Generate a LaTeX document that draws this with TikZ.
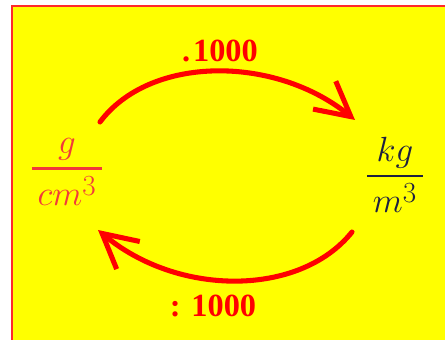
\documentclass[tikz,border=0pt]{standalone}
\usepackage{amsmath}
\usepackage{fontspec}
\setmainfont{Liberation Serif}
\usetikzlibrary{arrows.meta}
\definecolor{boardyellow}{HTML}{FFFF00}
\definecolor{boardred}{HTML}{FF2A2A}
\definecolor{unitred}{HTML}{F23A3A}
\definecolor{unitnavy}{HTML}{1E2040}
\newcommand{\unitfrac}[2]{\genfrac{}{}{1.6pt}{0}{#1}{\,#2\,}}
\tikzset{
  unit/.style={inner sep=0pt,font=\fontsize{31}{36}\selectfont},
  factor/.style={inner sep=0pt,text=red,font=\bfseries\fontsize{23}{26}\selectfont},
  convarrow/.style={draw=red,line width=3.6pt,line cap=round,
    -{Straight Barb[length=0.85cm,width=0.9cm,line width=3.6pt]}}
}
\begin{document}
\begin{tikzpicture}
\clip (0,0) rectangle (11.125,8.5);
\useasboundingbox (0,0) rectangle (11.125,8.5);
\fill[white] (0,0) rectangle (11.125,8.5);
\draw[fill=boardyellow,draw=boardred,line width=1.6pt]
  (0.3,-0.5) rectangle (11.6,8.35);
% units
\node[unit,text=unitred] (gcm) at (1.675,4.2) {$\unitfrac{g}{cm^3}$};
\node[unit,text=unitnavy] (kgm) at (9.875,4.125) {$\unitfrac{kg}{m^3}$};
% factors
\node[factor] (mul) at (5.5,7.225) {.\kern2pt1000};
\node[factor] (div) at (5.325,0.85) {: 1000};
% arcs
\coordinate (topstart) at (2.5,5.45);
\coordinate (topend) at (8.875,5.5);
\coordinate (botstart) at (8.8,2.7);
\coordinate (botend) at (2.45,2.75);
\draw[convarrow] (topstart) .. controls (3.75,7.125) and (6.875,7.125) .. (topend);
\draw[convarrow] (botstart) .. controls (7.5,1.075) and (4.45,1.075) .. (botend);
\end{tikzpicture}
\end{document}
